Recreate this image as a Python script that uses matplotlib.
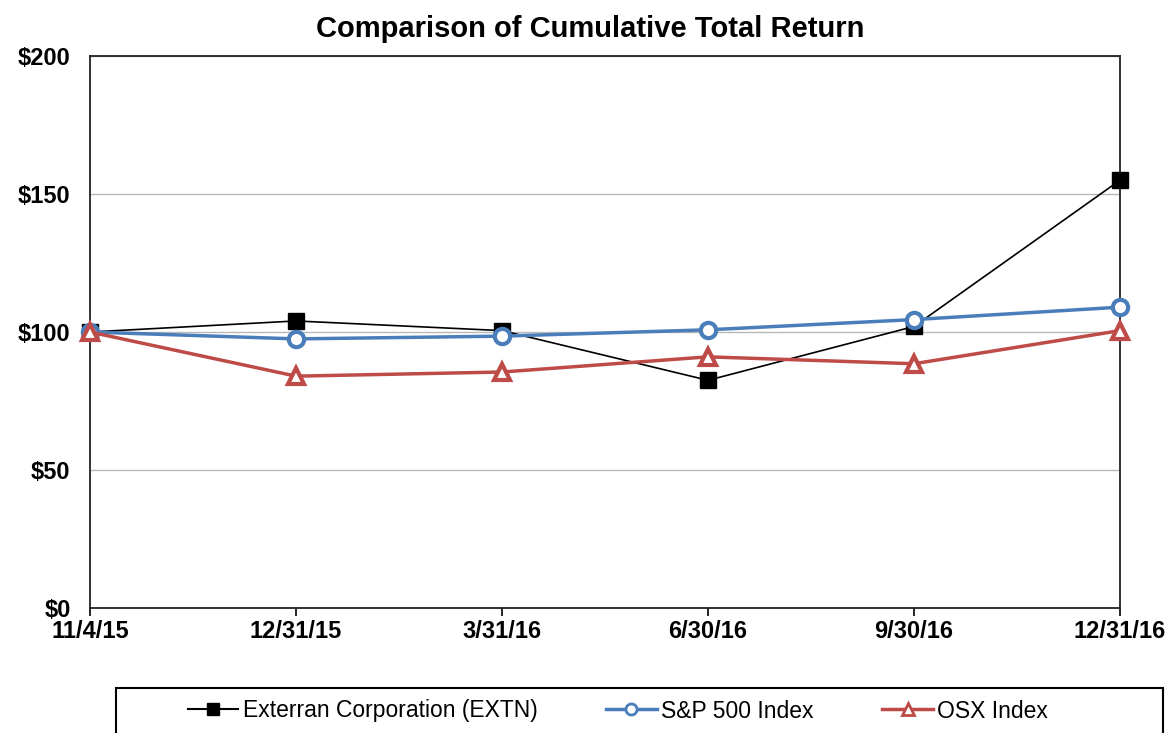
import matplotlib
matplotlib.use("Agg")
import matplotlib.pyplot as plt
from matplotlib.patches import Rectangle
from matplotlib.lines import Line2D

categories = ["11/4/15", "12/31/15", "3/31/16", "6/30/16", "9/30/16", "12/31/16"]
extn = [100, 104, 100.5, 82.5, 102, 155]
sp500 = [100, 97.5, 98.5, 100.8, 104.5, 109]
osx = [100, 84, 85.5, 91, 88.5, 100.5]
yticks = [0, 50, 100, 150, 200]
ytick_labels = ["$0", "$50", "$100", "$150", "$200"]
series_labels = ["Exterran Corporation (EXTN)", "S&P 500 Index", "OSX Index"]

plt.rcParams['font.family'] = ['Liberation Sans', 'DejaVu Sans']

BLUE = '#4a7ebb'
RED = '#be4b48'

W, H = 1172, 733
fig = plt.figure(figsize=(W/100, H/100), dpi=100)
ax = fig.add_axes([90/W, 1-608/H, (1120-90)/W, (608-56)/H])

x = list(range(len(categories)))
ax.plot(x, extn, color='black', lw=1.2, marker='s', ms=11, mfc='black', mec='black', zorder=3, clip_on=False)
ax.plot(x, sp500, color=BLUE, lw=2.5, marker='o', ms=11, mfc='white', mec=BLUE, mew=3, zorder=4, clip_on=False)
ax.plot(x, osx, color=RED, lw=2.5, marker='^', ms=12, mfc='white', mec=RED, mew=3, zorder=5, clip_on=False)

ax.set_xlim(0, len(categories)-1)
ax.set_ylim(0, 200)
ax.set_yticks(yticks)
ax.set_yticklabels(ytick_labels, fontsize=17, fontweight='bold')
ax.set_xticks(x)
ax.set_xticklabels(categories, fontsize=17, fontweight='bold')
ax.tick_params(axis='y', length=0, pad=14)
ax.tick_params(axis='x', direction='out', length=6, width=1.2, pad=3)
ax.grid(axis='y', color='#b8b8b8', lw=1)
for s in ax.spines.values():
    s.set_linewidth(1.3)
    s.set_color('#222222')
    s.set_zorder(2)

fig.text(590/W, 1-29/H, "Comparison of Cumulative Total Return", ha='center', va='center',
         fontsize=21, fontweight='bold')

# legend box
fig.patches.append(Rectangle((116/W, -0.01), (1163-116)/W, (733-688)/H + 0.01, transform=fig.transFigure,
                             fill=False, ec='black', lw=1.5))
handles = [
    Line2D([], [], color='black', lw=1.5, marker='s', ms=8, mfc='black', mec='black'),
    Line2D([], [], color=BLUE, lw=2.5, marker='o', ms=8, mfc='white', mec=BLUE, mew=2),
    Line2D([], [], color=RED, lw=2.5, marker='^', ms=8, mfc='white', mec=RED, mew=2),
]
fig.legend(handles, series_labels, loc='center', bbox_to_anchor=(618/W, 1-711/H), ncol=3,
           frameon=False, fontsize=16.5, handlelength=2.2, columnspacing=3.0, handletextpad=0.2)

fig.savefig("out.png", dpi=100)
